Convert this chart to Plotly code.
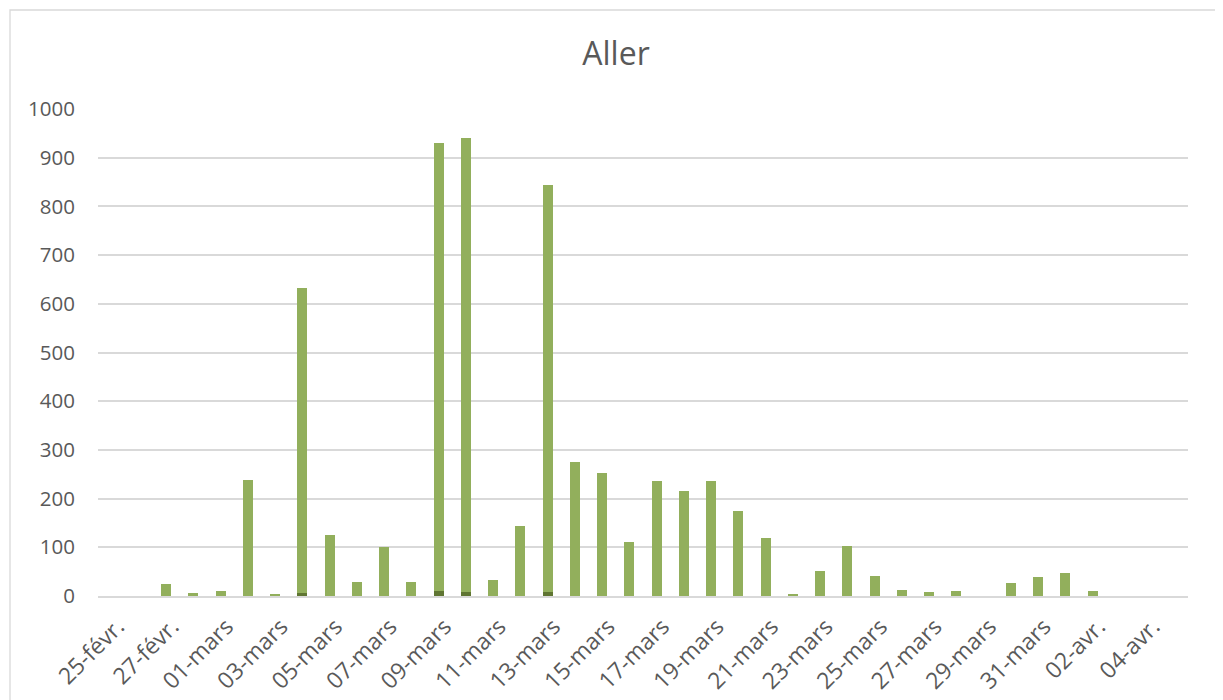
import plotly.graph_objects as go

# Categories: one per day, 25-févr. to 05-avr.
categories = [
    "25-févr.", "26-févr.", "27-févr.", "28-févr.",
    "01-mars", "02-mars", "03-mars", "04-mars", "05-mars", "06-mars", "07-mars",
    "08-mars", "09-mars", "10-mars", "11-mars", "12-mars", "13-mars", "14-mars",
    "15-mars", "16-mars", "17-mars", "18-mars", "19-mars", "20-mars", "21-mars",
    "22-mars", "23-mars", "24-mars", "25-mars", "26-mars", "27-mars", "28-mars",
    "29-mars", "30-mars", "31-mars",
    "01-avr.", "02-avr.", "03-avr.", "04-avr.", "05-avr.",
]

# Small dark series (bottom of the stack)
series_bottom = [
    0, 0, 0, 0,
    0, 1, 0, 7, 0, 0, 0,
    0, 11, 9, 0, 0, 8, 1,
    1, 0, 1, 1, 1, 0, 0,
    0, 0, 0, 0, 0, 0, 0,
    0, 0, 0,
    0, 0, 0, 0, 0,
]

# Main series (stacked on top)
series_main = [
    0, 0, 24, 6,
    10, 237, 4, 625, 125, 28, 100,
    28, 919, 931, 32, 143, 835, 274,
    251, 110, 235, 214, 235, 174, 119,
    3, 51, 102, 42, 12, 8, 10,
    0, 26, 38, 47, 10, 0, 0, 0,
]

tick_labels = categories[::2]

text_color = "#595959"
grid_color = "#d9d9d9"
font_family = "Open Sans"

# page body adds an 8px offset; margins compensate for it
OFF = 8

fig = go.Figure()
fig.add_trace(go.Bar(
    x=categories, y=series_bottom, name="bottom",
    marker=dict(color="#5f7532", line=dict(width=0)),
))
fig.add_trace(go.Bar(
    x=categories, y=series_main, name="main",
    marker=dict(color="#92af5c", line=dict(width=0)),
))

fig.update_layout(
    barmode="stack",
    bargap=0.64,
    width=1223,
    height=700,
    margin=dict(l=98 - OFF, r=35 + OFF, t=109 - OFF, b=104 + OFF),
    paper_bgcolor="white",
    plot_bgcolor="white",
    showlegend=False,
    font=dict(family=font_family, color=text_color, size=20),
    title=dict(
        text="Aller",
        x=(616 - OFF) / 1223, xref="container", xanchor="center",
        y=1 - (54 - OFF) / 700, yref="container", yanchor="middle",
        font=dict(family=font_family, size=32, color=text_color),
    ),
    xaxis=dict(
        type="category",
        categoryorder="array",
        categoryarray=categories,
        tickmode="array",
        tickvals=tick_labels,
        ticktext=tick_labels,
        tickangle=-45,
        showgrid=False,
        showline=True,
        linecolor=grid_color,
        linewidth=2,
        ticks="",
        ticklabelstandoff=6,
        ticklabelshift=6,
        tickfont=dict(size=23, color=text_color),
    ),
    yaxis=dict(
        range=[0, 1000],
        dtick=100,
        tick0=0,
        showgrid=True,
        gridcolor=grid_color,
        gridwidth=1.5,
        zeroline=False,
        showline=False,
        ticks="",
        ticklabelstandoff=22,
        tickfont=dict(size=20.5, color=text_color),
    ),
    shapes=[dict(
        type="rect", xref="paper", yref="paper",
        x0=(10 - 98) / 1090, x1=1.06,
        y0=-0.3, y1=(596 - 10) / 487,
        line=dict(color=grid_color, width=1.3),
        fillcolor="rgba(0,0,0,0)",
        layer="below",
    )],
)

fig.write_html("out.html")
